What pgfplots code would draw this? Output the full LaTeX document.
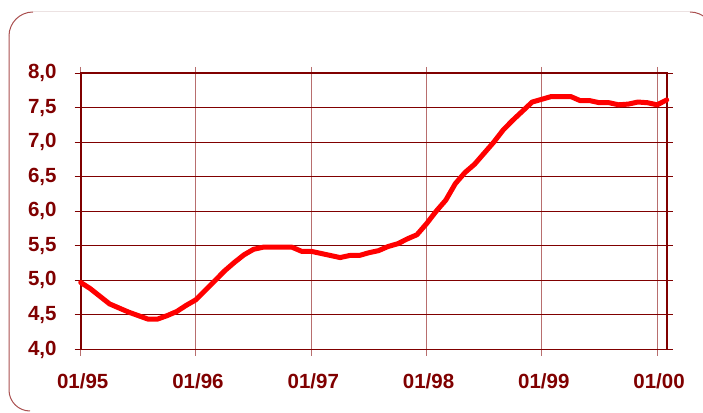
\documentclass[border=0pt]{standalone}
\usepackage{pgfplots}
\pgfplotsset{compat=1.18}
\usepackage{fontspec}
\setmainfont{Liberation Sans}
\definecolor{dr}{RGB}{128,0,0}
\definecolor{drl}{RGB}{184,110,110}
\definecolor{brd}{RGB}{170,80,80}
\definecolor{brdl}{RGB}{236,226,226}
\begin{document}
\begin{tikzpicture}[x=1pt,y=1pt]
\useasboundingbox (0,0) rectangle (703,412);
% frame
\draw[brd, line width=1pt] (9,376) arc[start angle=180, end angle=90, radius=24];
\draw[brdl, line width=1pt] (33,400) -- (690,400);
\draw[brd, line width=1pt] (690,400) arc[start angle=90, end angle=0, radius=24];
\draw[brd, line width=1pt] (9,376) -- (9,22) arc[start angle=180, end angle=270, radius=21];
\begin{axis}[
  at={(80.7pt,62.5pt)}, anchor=south west,
  scale only axis, width=586pt, height=276.5pt,
  xmin=0, xmax=61, ymin=4, ymax=8,
  xtick={0,12,24,36,48,60},
  xticklabels={01/95,01/96,01/97,01/98,01/99,01/00},
  ytick={4,4.5,5,5.5,6,6.5,7,7.5,8},
  yticklabels={{4,0},{4,5},{5,0},{5,5},{6,0},{6,5},{7,0},{7,5},{8,0}},
  tick align=outside, major tick length=6pt,
  x tick style={draw=drl, line width=1pt},
  y tick style={draw=dr, line width=1pt},
  xmajorgrids, ymajorgrids,
  major x grid style={draw=drl, line width=1pt},
  major y grid style={draw=dr, line width=1pt},
  axis line style={draw=dr, line width=1.6pt},
  tick label style={font=\fontsize{20.5}{24}\selectfont\bfseries, text=dr},
  yticklabel style={anchor=east, inner sep=0pt, xshift=-18pt},
  xticklabel style={anchor=north, inner sep=0pt, yshift=-18pt, xshift=2pt},
  clip=false,
]
\addplot[red, line width=5pt, line join=round, line cap=round] coordinates {
(0,4.97)(1,4.88)(2,4.77)(3,4.66)(4,4.60)(5,4.54)(6,4.49)(7,4.44)(8,4.44)(9,4.49)
(10,4.55)(11,4.64)(12,4.72)(13,4.86)(14,5.00)(15,5.14)(16,5.26)(17,5.37)(18,5.45)(19,5.48)
(20,5.48)(21,5.48)(22,5.48)(23,5.42)(24,5.42)(25,5.39)(26,5.36)(27,5.33)(28,5.36)(29,5.36)
(30,5.40)(31,5.43)(32,5.49)(33,5.53)(34,5.60)(35,5.66)(36,5.82)(37,6.00)(38,6.16)(39,6.40)
(40,6.56)(41,6.68)(42,6.84)(43,7.00)(44,7.18)(45,7.32)(46,7.45)(47,7.58)(48,7.62)(49,7.66)
(50,7.66)(51,7.66)(52,7.60)(53,7.60)(54,7.57)(55,7.57)(56,7.54)(57,7.55)(58,7.58)(59,7.57)
(60,7.54)(61,7.61)
};
\end{axis}
\end{tikzpicture}
\end{document}
